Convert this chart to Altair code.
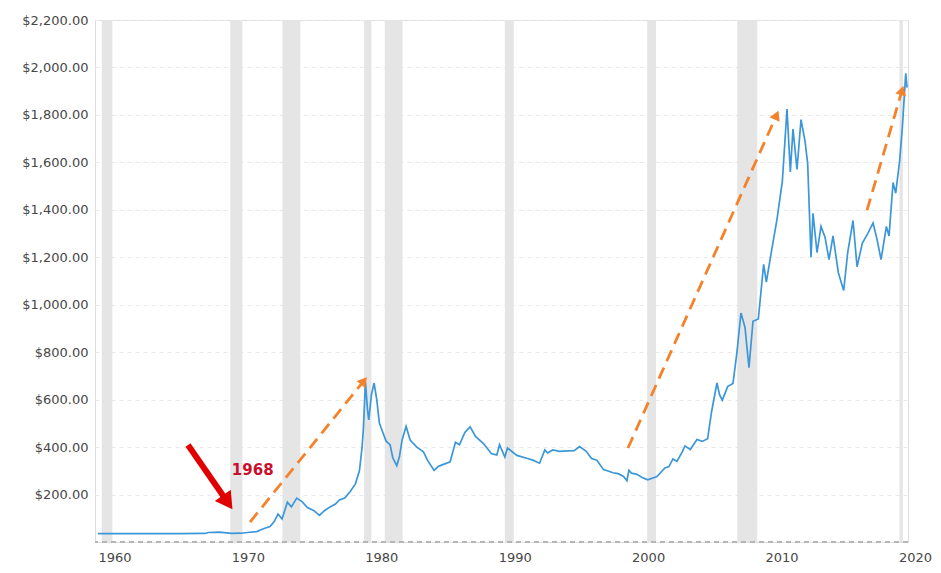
import altair as alt
import pandas as pd

# ---- data ----
years = [1960.0, 1962.0, 1964.0, 1966.0, 1968.0, 1968.3, 1969.1, 1970.0, 1970.7, 1971.4,
         1971.9, 1972.4, 1972.9, 1973.2, 1973.5, 1973.8, 1974.2, 1974.5, 1974.9, 1975.3,
         1975.7, 1976.2, 1976.6, 1977.0, 1977.4, 1977.8, 1978.1, 1978.5, 1978.9, 1979.3,
         1979.6, 1979.8, 1979.9, 1980.05, 1980.2, 1980.3, 1980.5, 1980.7, 1980.9, 1981.1,
         1981.3, 1981.6, 1981.9, 1982.1, 1982.4, 1982.6, 1982.8, 1983.1, 1983.4, 1983.9,
         1984.4, 1984.7, 1985.2, 1985.5, 1985.8, 1986.4, 1986.8, 1987.1, 1987.5, 1987.9,
         1988.3, 1988.9, 1989.5, 1989.9, 1990.1, 1990.5, 1990.7, 1991.4, 1992.2, 1992.6,
         1993.1, 1993.5, 1993.7, 1994.1, 1994.6, 1995.2, 1995.7, 1996.1, 1996.6, 1997.0,
         1997.4, 1997.9, 1998.3, 1998.6, 1999.0, 1999.4, 1999.65, 1999.8, 2000.0, 2000.4,
         2000.8, 2001.2, 2001.6, 2001.9, 2002.5, 2002.8, 2003.1, 2003.4, 2003.8, 2004.0,
         2004.4, 2004.9, 2005.3, 2005.7, 2006.0, 2006.4, 2006.6, 2006.8, 2007.2, 2007.6,
         2007.9, 2008.2, 2008.5, 2008.8, 2009.1, 2009.5, 2009.9, 2010.1, 2010.5, 2010.9,
         2011.3, 2011.65, 2011.9, 2012.1, 2012.4, 2012.7, 2013.0, 2013.2, 2013.45, 2013.6,
         2013.9, 2014.2, 2014.5, 2014.8, 2015.1, 2015.5, 2015.9, 2016.2, 2016.6, 2016.9,
         2017.3, 2017.7, 2018.1, 2018.4, 2018.7, 2019.1, 2019.3, 2019.6, 2019.8, 2020.1,
         2020.3, 2020.55, 2020.65]
prices = [35, 35, 35, 35, 36, 40, 42, 36, 37, 41,
          44, 56, 65, 85, 118, 97, 168, 148, 185, 170,
          145, 132, 112, 133, 148, 160, 177, 185, 212, 245,
          300, 400, 480, 675, 560, 515, 620, 670, 600, 500,
          470, 425, 410, 355, 322, 360, 430, 488, 430, 400,
          380, 345, 302, 318, 325, 338, 420, 410, 462, 485,
          445, 415, 372, 367, 410, 358, 396, 365, 352, 345,
          332, 388, 375, 388, 382, 384, 385, 402, 382, 352,
          345, 305, 298, 292, 288, 276, 258, 302, 290, 285,
          272, 262, 270, 276, 312, 318, 350, 340, 380, 405,
          390, 432, 424, 435, 550, 670, 620, 598, 655, 668,
          800, 965, 905, 735, 930, 940, 1170, 1095, 1230, 1360,
          1520, 1825, 1560, 1740, 1570, 1780, 1690, 1595, 1200, 1385,
          1220, 1330, 1285, 1190, 1290, 1135, 1060, 1220, 1355, 1160,
          1260, 1300, 1345, 1275, 1190, 1330, 1290, 1515, 1470, 1610,
          1750, 1975, 1915]

rec_start = [1960.29, 1969.92, 1973.83, 1979.95, 1981.5, 1990.5, 2001.17, 2007.92, 2020.08]
rec_end = [1961.08, 1970.83, 1975.17, 1980.5, 1982.83, 1991.17, 2001.83, 2009.42, 2020.33]

# orange dashed trend arrows (tail -> head)
tr_x1 = [1971.4, 1999.73, 2017.65]
tr_y1 = [84, 396, 1399]
tr_x2 = [1979.86, 2010.82, 2020.24]
tr_y2 = [674, 1793, 1897]
tr_angle = [39, 24, 16]

# red arrow pointing at 1968
red_x1 = [1966.75]
red_y1 = [409]
red_x2 = [1969.45]
red_y2 = [190]
red_hx = [1969.6]
red_hy = [177]
red_angle = [145]
label_x = [1971.6]
label_y = [303]
label_text = ["1968"]

y_ticks = list(range(0, 2201, 200))
x_ticks = [1960, 1970, 1980, 1990, 2000, 2010, 2020]

# ---- tables ----
line_df = pd.DataFrame({"year": years, "price": prices})
rec_df = pd.DataFrame({"s": rec_start, "e": rec_end})
tr_df = pd.DataFrame({"x1": tr_x1, "y1": tr_y1, "x2": tr_x2, "y2": tr_y2, "a": tr_angle})
red_df = pd.DataFrame({"x1": red_x1, "y1": red_y1, "x2": red_x2, "y2": red_y2,
                       "hx": red_hx, "hy": red_hy, "a": red_angle})
lab_df = pd.DataFrame({"x": label_x, "y": label_y, "t": label_text})

xs = alt.Scale(domain=[1959.78, 2020.72], nice=False, zero=False)
ys = alt.Scale(domain=[0, 2200], nice=False)

FONT = "DejaVu Sans"

x_axis = alt.Axis(values=x_ticks, format="d", labelAlign="left", labelPadding=9,
                  tickSize=0, domain=False, grid=False, title=None,
                  labelFont=FONT, labelFontSize=13, labelColor="#474747", labelFlush=False)
y_axis = alt.Axis(values=y_ticks,
                  labelExpr="datum.value == 0 ? '' : format(datum.value, '$,.2f')",
                  tickSize=0, domain=False, grid=True, gridColor="#e8e8e8",
                  gridDash=[4, 4], labelPadding=7, title=None,
                  labelFont=FONT, labelFontSize=13, labelColor="#474747")

rects = alt.Chart(rec_df).mark_rect(color="#e5e5e5").encode(
    x=alt.X("s:Q", scale=xs, axis=x_axis),
    x2="e:Q",
    y=alt.value(0),
    y2=alt.value(522),
)

base_axis = alt.Chart(line_df).mark_line(opacity=0).encode(
    x=alt.X("year:Q", scale=xs, axis=x_axis),
    y=alt.Y("price:Q", scale=ys, axis=y_axis),
)

baseline = alt.Chart(line_df).mark_rule(color="#b5b5b5", strokeDash=[5, 4], strokeWidth=1).encode(
    y=alt.datum(0, scale=ys),
)

line = alt.Chart(line_df).mark_line(color="#3b97d9", strokeWidth=1.7).encode(
    x=alt.X("year:Q", scale=xs),
    y=alt.Y("price:Q", scale=ys),
)

tr_rule = alt.Chart(tr_df).mark_rule(color="#f5822a", strokeWidth=2.8, strokeDash=[12, 7]).encode(
    x=alt.X("x1:Q", scale=xs), y=alt.Y("y1:Q", scale=ys), x2="x2:Q", y2="y2:Q"
)
tr_head = alt.Chart(tr_df).mark_point(shape="triangle", filled=True, color="#f5822a",
                                      opacity=1, size=120).encode(
    x=alt.X("x2:Q", scale=xs), y=alt.Y("y2:Q", scale=ys), angle=alt.Angle("a:Q", scale=None)
)

red_rule = alt.Chart(red_df).mark_rule(color="#e00000", strokeWidth=6).encode(
    x=alt.X("x1:Q", scale=xs), y=alt.Y("y1:Q", scale=ys), x2="x2:Q", y2="y2:Q"
)
red_head = alt.Chart(red_df).mark_point(shape="triangle", filled=True, color="#e00000",
                                        opacity=1, size=380).encode(
    x=alt.X("hx:Q", scale=xs), y=alt.Y("hy:Q", scale=ys), angle=alt.Angle("a:Q", scale=None)
)
label = alt.Chart(lab_df).mark_text(color="#c8102e", fontWeight="bold", fontSize=15,
                                    font=FONT).encode(
    x=alt.X("x:Q", scale=xs), y=alt.Y("y:Q", scale=ys), text="t:N"
)

chart = alt.layer(rects, base_axis, baseline, line, tr_rule, tr_head, red_rule, red_head, label).properties(
    width=813, height=522,
    autosize=alt.AutoSizeParams(type="none"),
    padding={"left": 95, "top": 20, "right": 33, "bottom": 31},
).configure_view(stroke=None).configure(background="white")

chart.save("out.html", embed_options={"renderer": "svg", "actions": False})
